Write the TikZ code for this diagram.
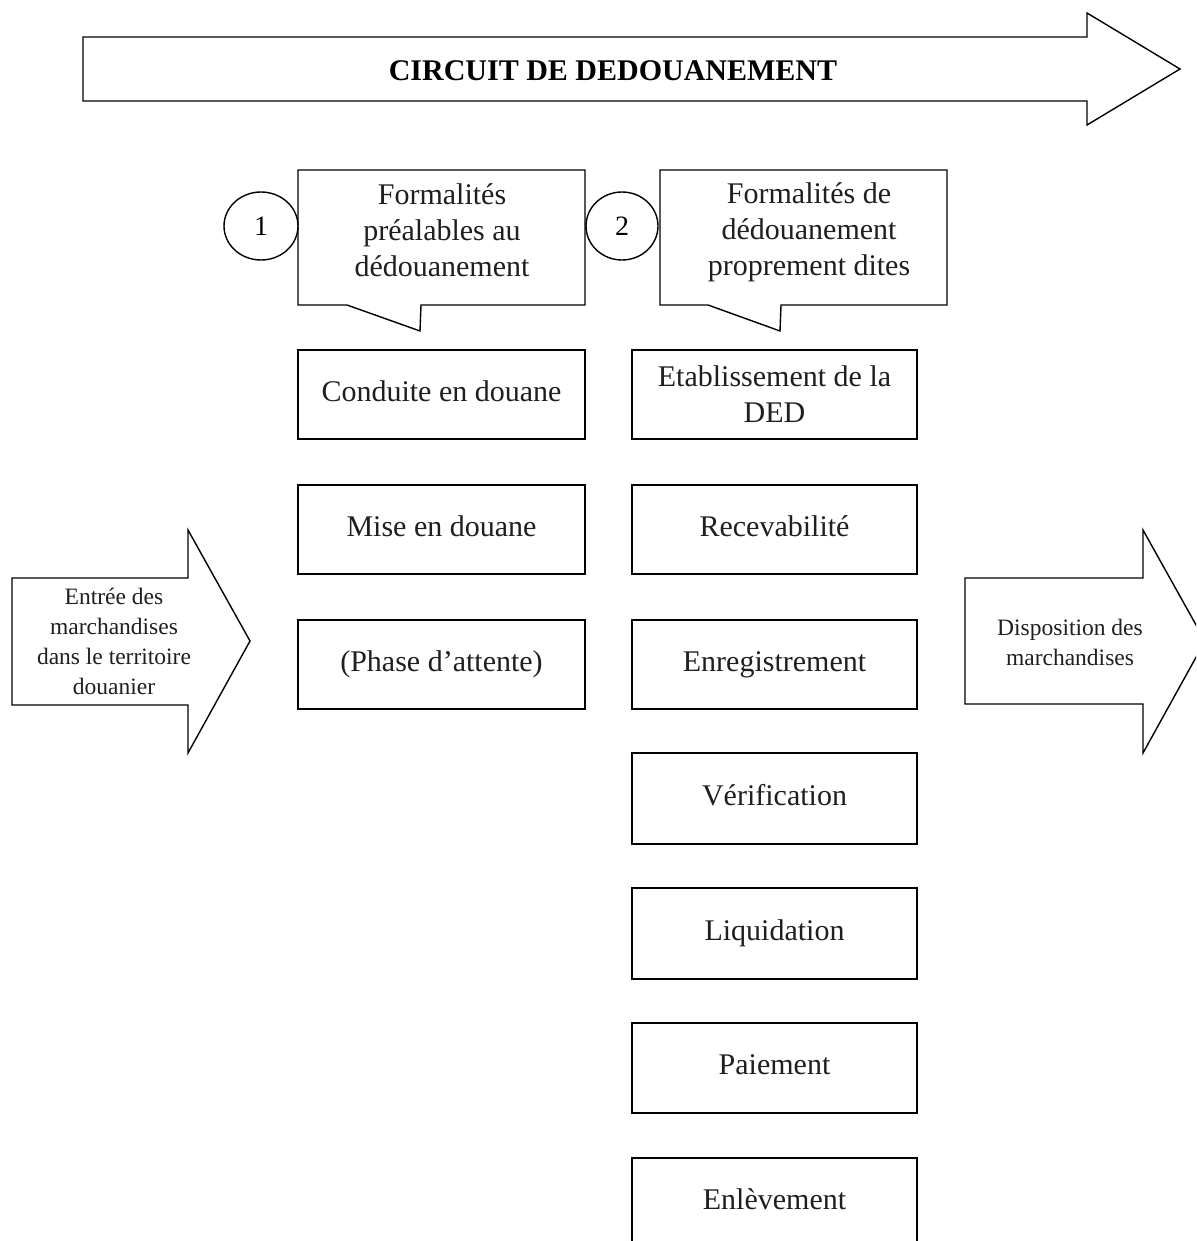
\documentclass[tikz,border=0pt]{standalone}
\usepackage{fontspec}
\setmainfont{Liberation Serif}
\usetikzlibrary{shapes.geometric}
\begin{document}
\begin{tikzpicture}[x=1pt,y=-1pt,line join=miter,
  ln/.style={draw=black,line width=1.4pt},
  stepbox/.style={draw=black,line width=1.4pt,minimum height=89pt,inner sep=0pt,
    font=\fontsize{30}{36}\selectfont,align=center,text=black!88},
  oneline/.style={text height=21pt,text depth=8pt},
  leftbox/.style={stepbox,minimum width=287pt},
  rightbox/.style={stepbox,minimum width=285pt},
  bigtxt/.style={font=\fontsize{30}{36}\selectfont,align=center,text=black!88},
  smalltxt/.style={font=\fontsize{23.5}{30}\selectfont,align=center,text=black!88},
  numcircle/.style={ellipse,draw=black,line width=1.4pt,fill=white,minimum width=74pt,minimum height=68pt,inner sep=0pt,font=\fontsize{28}{34}\selectfont}]
\clip (0,0) rectangle (1196,1241);
\fill[white] (0,0) rectangle (1196,1241);

% title arrow
\draw[ln] (83,37) -- (1087,37) -- (1087,13) -- (1180,69) -- (1087,125) -- (1087,101) -- (83,101) -- cycle;
\node[font=\fontsize{30}{34}\selectfont\bfseries] (title) at (613,71) {CIRCUIT DE DEDOUANEMENT};

% callouts
\draw[ln] (298,170) -- (585,170) -- (585,305) -- (421,305) -- (420,331) -- (347,305) -- (298,305) -- cycle;
\node[bigtxt] (call1) at (442,230) {Formalités\\préalables au\\dédouanement};
\draw[ln] (660,170) -- (947,170) -- (947,305) -- (781,305) -- (780,331) -- (708,305) -- (660,305) -- cycle;
\node[bigtxt] (call2) at (809,232) {Formalités de\\dédouanement\\proprement dites};

\node[numcircle] (n1) at (261,226) {1};
\node[numcircle,minimum width=72pt] (n2) at (622,226) {2};

% left column
\node[leftbox,oneline] (b1) at (441.5,394.5) {Conduite en douane};
\node[leftbox,oneline] (b2) at (441.5,529.5) {Mise en douane};
\node[leftbox,oneline] (b3) at (441.5,664.5) {(Phase d’attente)};

% right column
\node[rightbox] (r1) at (774.5,394.5) {Etablissement de la\\DED};
\node[rightbox,oneline] (r2) at (774.5,529.5) {Recevabilité};
\node[rightbox,oneline] (r3) at (774.5,664.5) {Enregistrement};
\node[rightbox,oneline,minimum height=91pt] (r4) at (774.5,798.5) {Vérification};
\node[rightbox,oneline,minimum height=91pt] (r5) at (774.5,933.5) {Liquidation};
\node[rightbox,oneline,minimum height=90pt] (r6) at (774.5,1068) {Paiement};
\node[rightbox,oneline,minimum height=90pt] (r7) at (774.5,1203) {Enlèvement};

% side arrows
\draw[ln] (12,578) -- (188,578) -- (188,530) -- (250,641) -- (188,753) -- (188,705) -- (12,705) -- cycle;
\node[smalltxt] (entree) at (114,641) {Entrée des\\marchandises\\dans le territoire\\douanier};
\draw[ln] (965,578) -- (1143,578) -- (1143,530) -- (1205,641) -- (1143,753) -- (1143,704) -- (965,704) -- cycle;
\node[smalltxt] (dispo) at (1070,642) {Disposition des\\marchandises};
\end{tikzpicture}
\end{document}
